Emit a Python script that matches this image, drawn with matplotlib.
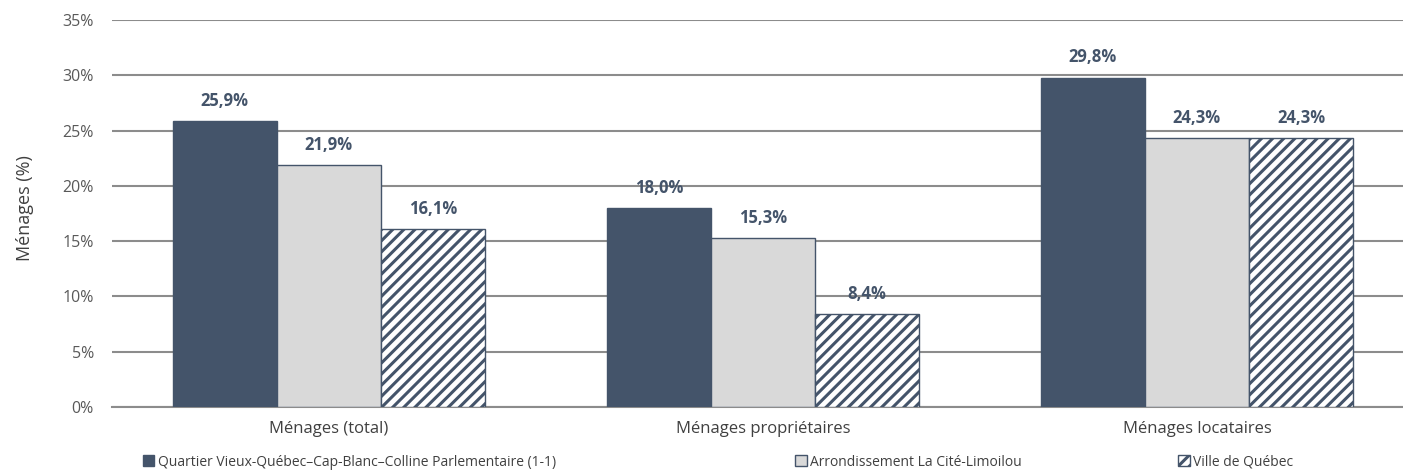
import matplotlib
matplotlib.use("Agg")
import matplotlib.pyplot as plt
from matplotlib.patches import Patch
import numpy as np

plt.rcParams['font.family'] = ['Open Sans', 'DejaVu Sans']
plt.rcParams['hatch.linewidth'] = 2.2

categories = ["Ménages (total)", "Ménages propriétaires", "Ménages locataires"]
series_names = [
    "Quartier Vieux-Québec–Cap-Blanc–Colline Parlementaire (1-1)",
    "Arrondissement La Cité-Limoilou",
    "Ville de Québec",
]
quartier = [25.9, 18.0, 29.8]
arrondissement = [21.9, 15.3, 24.3]
ville = [16.1, 8.4, 24.3]
yticks = [0, 5, 10, 15, 20, 25, 30, 35]

dark = "#44546A"
light = "#D9D9D9"
grid_c = "#8C8C8C"
text_c = "#404040"

fig = plt.figure(figsize=(14.03, 4.71), dpi=100)
ax = fig.add_axes([0.0798, 0.136, 0.928, 0.8215])

x = np.arange(len(categories))
w = 0.24
series = [quartier, arrondissement, ville]
styles = [
    dict(color=dark, edgecolor=dark, linewidth=1.0),
    dict(color=light, edgecolor=dark, linewidth=1.0),
    dict(facecolor="white", edgecolor=dark, hatch="///", linewidth=1.0),
]
for i, (vals, st) in enumerate(zip(series, styles)):
    xs = x + (i - 1) * w
    ax.bar(xs, vals, w, zorder=3, **st)
    for xi, v in zip(xs, vals):
        ax.text(xi, v + 1.0, f"{v:.1f}%".replace(".", ","), ha="center", va="bottom",
                fontsize=12, fontweight="bold", color=dark, zorder=4)

ax.set_xlim(-0.5, 2.5)
ax.set_ylim(0, 35)
ax.set_yticks(yticks)
ax.set_yticklabels([f"{t}%" for t in yticks], fontsize=11.5, color="#595959")
ax.set_xticks(x)
ax.set_xticklabels(categories, fontsize=12, color=text_c)
ax.tick_params(axis="both", length=0)
ax.tick_params(axis="x", pad=10)
ax.tick_params(axis="y", pad=13)
fig.text(25 / 1403, 0.558, "Ménages (%)", rotation=90, ha="center", va="center",
         fontsize=13, color=text_c)
ax.yaxis.grid(True, color=grid_c, linewidth=1.5, zorder=0)
for s in ["top", "right", "left"]:
    ax.spines[s].set_visible(False)
ax.spines["bottom"].set_color(grid_c)
ax.spines["bottom"].set_linewidth(1.5)

handles = [
    Patch(facecolor=dark, edgecolor=dark),
    Patch(facecolor=light, edgecolor=dark),
    Patch(facecolor="white", edgecolor=dark, hatch="///"),
]
xpos = [0.097, 0.562, 0.835]
for h, name, xp in zip(handles, series_names, xpos):
    fig.legend([h], [name], loc="center left", bbox_to_anchor=(xp, 0.019),
               frameon=False, fontsize=10, handlelength=0.8, handleheight=0.8,
               handletextpad=0.25, borderpad=0, labelcolor=text_c)

fig.savefig("out.png", dpi=100)
